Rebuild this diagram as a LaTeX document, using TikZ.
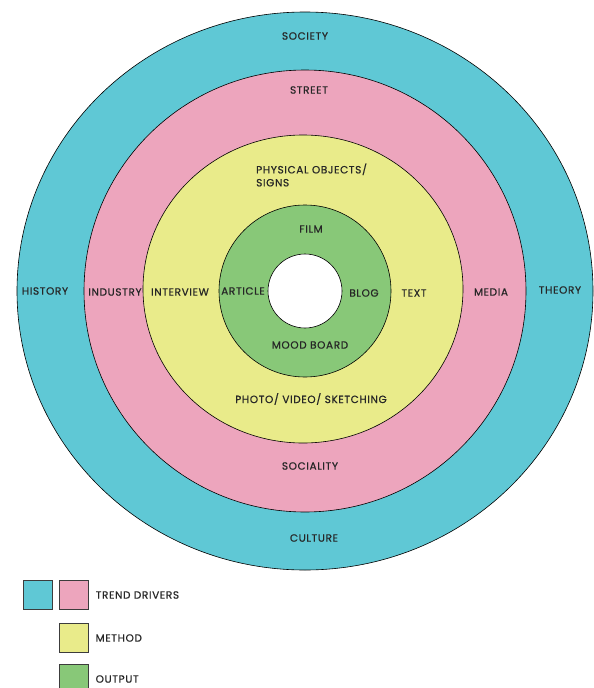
\documentclass[tikz,border=0pt]{standalone}
\usepackage{fontspec}
\setmainfont{Poppins}[LetterSpace=6, FakeBold=0.6]
\usepackage{tikz}
\usetikzlibrary{positioning}
\definecolor{societycyan}{RGB}{95,200,213}
\definecolor{streetpink}{RGB}{237,165,189}
\definecolor{methodyellow}{RGB}{233,235,138}
\definecolor{outputgreen}{RGB}{136,200,120}
\definecolor{edgegray}{RGB}{60,60,60}
\tikzset{
	ring/.style={draw=black, line width=0.6pt},
	ringtext/.style={font=\fontsize{10.5}{13}\selectfont, text=black!85, inner sep=0pt},
	keybox/.style={draw=edgegray, line width=1pt, minimum width=29pt, minimum height=29pt, inner sep=0pt},
	keytext/.style={font=\fontsize{10.5}{13}\selectfont, text=black!85, anchor=west, inner sep=0pt},
}

\begin{document}
\begin{tikzpicture}[x=1pt, y=-1pt]
	\useasboundingbox (0,0) rectangle (594,688);
	\coordinate (c) at (305,291);
	% rings, outside in
	\draw[ring, fill=societycyan] (c) ellipse [x radius=288, y radius=279];
	\draw[ring, fill=streetpink] (c) circle [radius=221];
	\draw[ring, fill=methodyellow] (303,289) ellipse [x radius=160, y radius=154];
	\draw[ring, fill=outputgreen] (c) circle [radius=86];
	\draw[ring, fill=white] (c) circle [radius=37];
	% trend drivers
	\node[ringtext] (society) at (305,36) {SOCIETY};
	\node[ringtext] (culture) at (314,538) {CULTURE};
	\node[ringtext] (history) at (45,291) {HISTORY};
	\node[ringtext] (theory) at (560,290) {THEORY};
	\node[ringtext] (street) at (309,90) {STREET};
	\node[ringtext] (sociality) at (310,466) {SOCIALITY};
	\node[ringtext] (industry) at (115,292) {INDUSTRY};
	\node[ringtext] (media) at (491,292) {MEDIA};
	% method
	\node[ringtext, align=left, anchor=west] (objects) at (256,175) {PHYSICAL OBJECTS/\\SIGNS};
	\node[ringtext] (photo) at (311,399) {PHOTO/ VIDEO/ SKETCHING};
	\node[ringtext] (interview) at (180,292) {INTERVIEW};
	\node[ringtext] (text) at (414,293) {TEXT};
	% output
	\node[ringtext] (film) at (311,229) {FILM};
	\node[ringtext] (article) at (243,291) {ARTICLE};
	\node[ringtext] (blog) at (364,293) {BLOG};
	\node[ringtext] (moodboard) at (310,345) {MOOD BOARD};
	% legend
	\node[keybox, fill=societycyan] (keycyan) at (37.5,595) {};
	\node[keybox, fill=streetpink, right=6pt of keycyan] (keypink) {};
	\node[keybox, fill=methodyellow, below=13pt of keypink] (keyyellow) {};
	\node[keybox, fill=outputgreen, below=11pt of keyyellow] (keygreen) {};
	\node[keytext, right=7pt of keypink] (drivers) {TREND DRIVERS};
	\node[keytext, right=7pt of keyyellow] (method) {METHOD};
	\node[keytext, right=7pt of keygreen] (output) {OUTPUT};
\end{tikzpicture}
\end{document}
